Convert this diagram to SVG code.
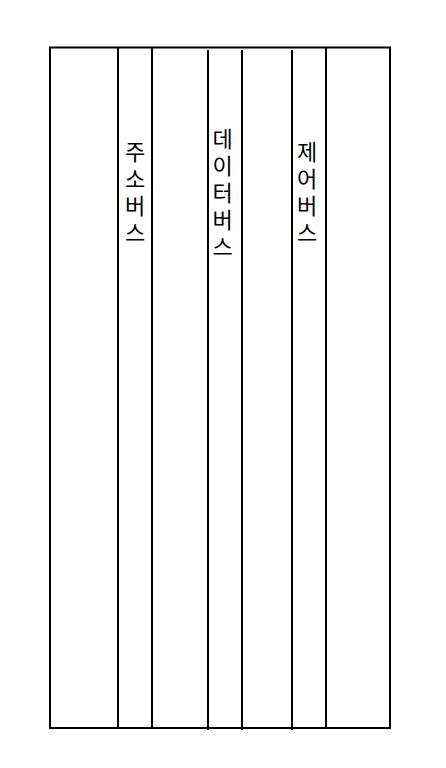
<svg xmlns="http://www.w3.org/2000/svg" width="446" height="768" viewBox="0 0 446 768">
<style>
.ln{stroke:#000;stroke-width:2;fill:none}
.lb{font-family:"Noto Sans CJK KR","Noto Sans",sans-serif;font-size:22px;fill:#000;writing-mode:vertical-rl;text-orientation:upright;letter-spacing:5px}
</style>
<rect width="446" height="768" fill="#fff"/>
<g id="frame">
<rect class="ln" x="50" y="47.5" width="340" height="680.5"/>
</g>
<g id="connectors">
<line class="ln" x1="118" y1="47.5" x2="118" y2="728"/>
<line class="ln" x1="152" y1="47.5" x2="152" y2="728"/>
<line class="ln" x1="208" y1="50" x2="208" y2="730"/>
<line class="ln" x1="242" y1="50" x2="242" y2="730"/>
<line class="ln" x1="292" y1="50" x2="292" y2="730"/>
<line class="ln" x1="326" y1="47.5" x2="326" y2="728"/>
</g>
<g id="address-bus">
<text class="lb" x="135" y="141">주소버스</text>
</g>
<g id="data-bus">
<text class="lb" x="222.5" y="128">데이터버스</text>
</g>
<g id="control-bus">
<text class="lb" x="307" y="141">제어버스</text>
</g>
</svg>
